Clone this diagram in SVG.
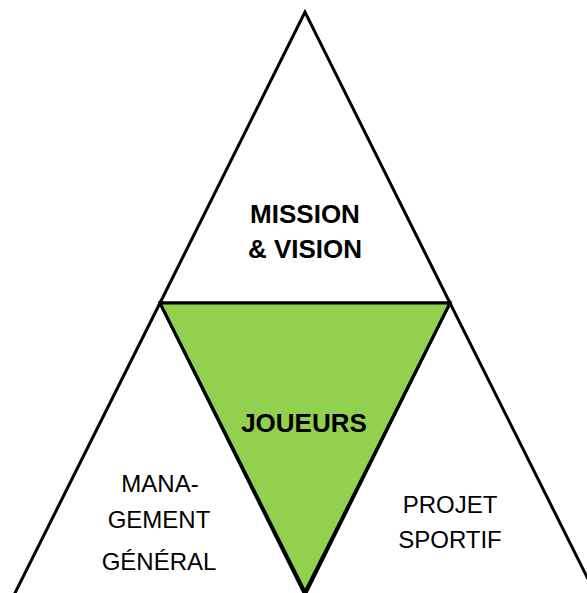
<svg xmlns="http://www.w3.org/2000/svg" width="587" height="593" viewBox="0 0 587 593">
<style>
.tri{fill:#fff;stroke:#000;stroke-width:3;stroke-linejoin:miter}
.green{fill:#92D050;stroke:#000;stroke-width:3}
.b{font-family:"Liberation Sans",Arial,sans-serif;font-weight:bold;font-size:26px;text-anchor:middle;fill:#000}
.r{font-family:"Liberation Sans",Arial,sans-serif;font-size:24px;text-anchor:middle;fill:#000}
</style>
<rect width="587" height="593" fill="#fff"/>
<g id="mission">
<polygon class="tri" points="305,12 160,303 450,303"/>
<text class="b" x="305" y="223">MISSION</text>
<text class="b" x="305" y="258">&amp; VISION</text>
</g>
<g id="management">
<polygon class="tri" points="160,303 14,595 305,595"/>
<text class="r" x="160" y="492">MANA-</text>
<text class="r" x="159" y="528">GEMENT</text>
<text class="r" x="159" y="570">GÉNÉRAL</text>
</g>
<g id="projet">
<polygon class="tri" points="450,303 305,595 596,595"/>
<text class="r" x="450" y="513">PROJET</text>
<text class="r" x="450" y="548">SPORTIF</text>
</g>
<g id="joueurs">
<polygon class="green" points="160,303 450,303 305,592"/>
<text class="b" x="304" y="432">JOUEURS</text>
</g>
<g id="connectors"></g>
</svg>
